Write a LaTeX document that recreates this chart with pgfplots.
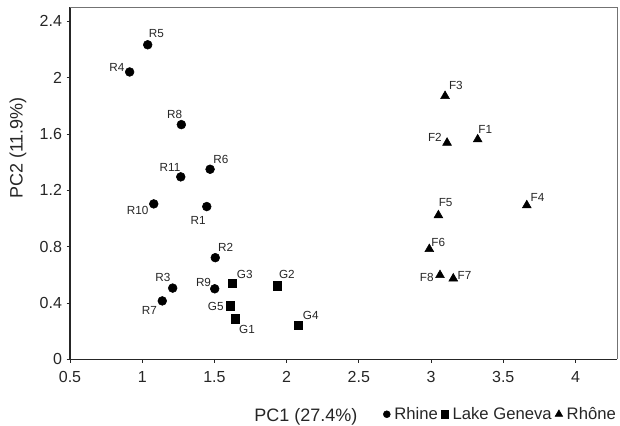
\documentclass[border=0pt]{standalone}
\usepackage{fontspec}
\setmainfont{Liberation Sans}
\usepackage{pgfplots}
\pgfplotsset{compat=1.18}

\pgfplotsset{
  labelled/.style={
    only marks, black, forget plot,
    nodes near coords,
    point meta=explicit symbolic,
    visualization depends on={value \thisrow{dx}\as\dx},
    visualization depends on={value \thisrow{dy}\as\dy},
    every node near coord/.append style={anchor=center, inner sep=0pt,
      xshift=\dx*0.75pt, yshift=\dy*0.75pt,
      font=\fontsize{8.8}{10}\selectfont, text=black!85},
  },
}

\begin{document}
\begin{tikzpicture}
\begin{axis}[
  scale only axis,
  width=410.5pt, height=264pt,
  xmin=0.5, xmax=4.29, ymin=0, ymax=2.5,
  enlargelimits=false,
  xtick={0.5,1,...,4}, ytick={0,0.4,...,2.4},
  axis lines*=left,
  axis line style={black!85, line width=0.8pt},
  tick align=outside,
  major tick length=2.5pt,
  tick style={black!85, line width=0.7pt},
  clip=false,
  /pgf/number format/assume math mode=true,
  ticklabel style={font=\fontsize{12}{14}\selectfont, text=black!85},
  xticklabel style={yshift=-3pt},
  xlabel={PC1 (27.4\%)},
  ylabel={PC2 (11.9\%)},
  label style={font=\fontsize{13.5}{16}\selectfont, text=black!85},
  xlabel style={at={(axis description cs:0.431,-0.176)}, anchor=base},
  ylabel style={at={(axis description cs:-0.095,0.6)}, anchor=center},
  legend columns=3,
  legend style={at={(axis description cs:0.572,-0.156)}, anchor=west,
    draw=none, fill=none, inner sep=0pt,
    font=\fontsize{12.5}{14}\selectfont, text=black!85,
    nodes={inner sep=1pt},
    /tikz/every even column/.append style={column sep=1.5pt},
    /tikz/every odd column/.append style={column sep=2pt}},
  legend image code/.code={\draw[#1] plot coordinates {(0pt,0pt)};},
]
% x, y: scores; dx, dy: label offset from the point, in pixels of the reference
\addplot[labelled, mark=*, mark size=3.3pt] table[x=x, y=y, meta=lab] {
x     y     lab  dx    dy
1.038 2.234 R5   8.8   11.2
0.913 2.041 R4  -12.7  4.2
1.271 1.667 R8  -6.6   10.6
1.470 1.350 R6   10.8  10.0
1.267 1.296 R11 -10.7  9.3
1.080 1.104 R10 -16.2 -6.2
1.447 1.085 R1  -8.7  -14.3
1.506 0.722 R2   10.4  10.0
1.211 0.506 R3  -9.7   11.0
1.139 0.415 R7  -12.8 -9.8
1.502 0.501 R9  -11.2  6.0
};
\addplot[labelled, mark=square*, mark size=3.1pt] table[x=x, y=y, meta=lab] {
x     y     lab  dx    dy
1.624 0.541 G3   12.4  8.6
1.934 0.522 G2   9.8   11.0
1.608 0.380 G5  -14.2 -0.7
1.645 0.289 G1   11.7 -10.6
2.081 0.244 G4   12.5  9.2
};
\addplot[labelled, mark=triangle*, mark size=3.8pt] table[x=x, y=y, meta=lab] {
x     y     lab  dx    dy
3.097 1.870 F3   10.8  11.0
3.111 1.538 F2  -12.2  5.3
3.323 1.562 F1   7.6   10.0
3.051 1.023 F5   7.2   13.0
3.663 1.094 F4   10.8  8.0
2.988 0.783 F6   9.0   6.6
3.062 0.598 F8  -13.2 -2.0
3.154 0.574 F7   11.2  3.0
};
\addlegendimage{only marks, black, mark=*, mark size=2.6pt}
\addlegendentry{Rhine}
\addlegendimage{only marks, black, mark=square*, mark size=2.8pt}
\addlegendentry{Lake Geneva}
\addlegendimage{only marks, black, mark=triangle*, mark size=3.3pt}
\addlegendentry{Rh\^one}
\draw[black!55, line width=0.6pt] (rel axis cs:0,1) -- (rel axis cs:1,1) -- (rel axis cs:1,0);
\coordinate (sw) at (rel axis cs:0,0);
\coordinate (ne) at (rel axis cs:1,1);
\end{axis}
\pgfresetboundingbox
\path[use as bounding box] ([shift={(-52.5pt,-49.3pt)}]sw) rectangle ([shift={(2pt,5.5pt)}]ne);
\end{tikzpicture}
\end{document}
